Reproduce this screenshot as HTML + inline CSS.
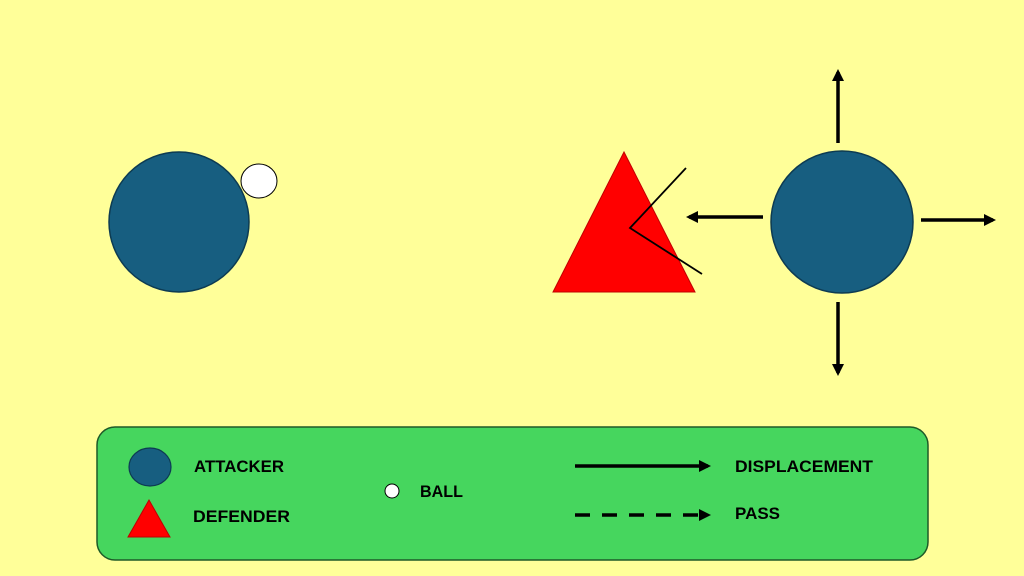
<!DOCTYPE html>
<html><head><style>
html,body{margin:0;padding:0;background:#ffff99;}
svg{display:block}
text{font-family:"Liberation Sans",sans-serif;font-weight:bold;font-size:17px;fill:#000}
</style></head><body>
<svg width="1024" height="576" viewBox="0 0 1024 576">
<rect width="1024" height="576" fill="#ffff99"/>
<defs>
<marker id="ah" markerWidth="12" markerHeight="12" refX="9" refY="6" orient="auto" markerUnits="userSpaceOnUse">
<path d="M0,0 L12,6 L0,12 Z" fill="#000"/></marker>
</defs>
<circle cx="179" cy="222" r="70" fill="#175e80" stroke="#0d3b52" stroke-width="1.5"/>
<ellipse cx="259" cy="181" rx="18" ry="17" fill="#fff" stroke="#000" stroke-width="1"/>
<polygon points="624,152 553,292 695,292" fill="#ff0000" stroke="#c00000" stroke-width="1"/>
<polyline points="686,168 630,228 702,274" fill="none" stroke="#000" stroke-width="1.8"/>
<circle cx="842" cy="222" r="71" fill="#175e80" stroke="#0d3b52" stroke-width="1.5"/>
<g stroke="#000" stroke-width="3.5">
<line x1="838" y1="143" x2="838" y2="72" marker-end="url(#ah)"/>
<line x1="763" y1="217" x2="689" y2="217" marker-end="url(#ah)"/>
<line x1="921" y1="220" x2="993" y2="220" marker-end="url(#ah)"/>
<line x1="838" y1="302" x2="838" y2="373" marker-end="url(#ah)"/>
</g>
<rect x="97" y="427" width="831" height="133" rx="18" fill="#46d65e" stroke="#1e5a28" stroke-width="1.5"/>
<ellipse cx="150" cy="467" rx="21" ry="19" fill="#175e80" stroke="#0d3b52" stroke-width="1.2"/>
<polygon points="149,500 128,537 170,537" fill="#ff0000" stroke="#c00000" stroke-width="1"/>
<text x="194" y="472" textLength="90" lengthAdjust="spacingAndGlyphs">ATTACKER</text>
<text x="193" y="522" textLength="97" lengthAdjust="spacingAndGlyphs">DEFENDER</text>
<circle cx="392" cy="491" r="7" fill="#fff" stroke="#000" stroke-width="1"/>
<text x="420" y="497" textLength="43" lengthAdjust="spacingAndGlyphs">BALL</text>
<line x1="575" y1="466" x2="708" y2="466" stroke="#000" stroke-width="3.5" marker-end="url(#ah)"/>
<line x1="575" y1="515" x2="708" y2="515" stroke="#000" stroke-width="3.5" stroke-dasharray="15,12" marker-end="url(#ah)"/>
<text x="735" y="472" textLength="138" lengthAdjust="spacingAndGlyphs">DISPLACEMENT</text>
<text x="735" y="519" textLength="45" lengthAdjust="spacingAndGlyphs">PASS</text>
</svg>
</body></html>
